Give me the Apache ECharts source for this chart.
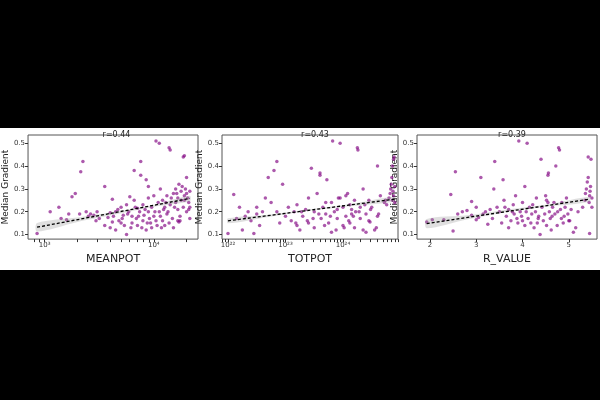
<!DOCTYPE html>
<html><head><meta charset="utf-8">
<script src="https://cdn.jsdelivr.net/npm/echarts@6/dist/echarts.min.js"></script>
<style>html,body{margin:0;padding:0;background:#000;width:600px;height:400px;overflow:hidden}
#c{position:absolute;left:0;top:128px;width:600px;height:142px;background:#fff}</style>
</head><body><div id="c"></div>
<script>
// x values: panel1 log10(MEANPOT), panel2 log10(TOTPOT), panel3 R_VALUE
const titles = ['r=0.44','r=0.43','r=0.39'];
const xNames = ['MEANPOT','TOTPOT','R_VALUE'];
const meanpotPts = [[2.93,0.105],[3.05,0.2],[3.13,0.22],[3.15,0.17],[3.2,0.165],[3.22,0.19],[3.25,0.265],[3.28,0.28],[3.32,0.19],[3.35,0.42],[3.33,0.375],[3.38,0.2],[3.4,0.18],[3.42,0.19],[3.45,0.185],[3.47,0.16],[3.48,0.2],[3.5,0.17],[3.55,0.14],[3.55,0.31],[3.58,0.175],[3.6,0.195],[3.62,0.155],[3.62,0.255],[3.65,0.12],[3.65,0.2],[3.68,0.16],[3.7,0.22],[3.72,0.185],[3.73,0.14],[3.75,0.1],[3.75,0.23],[3.77,0.2],[3.78,0.265],[3.8,0.15],[3.8,0.18],[3.82,0.38],[3.82,0.25],[3.84,0.17],[3.85,0.215],[3.85,0.14],[3.87,0.2],[3.88,0.42],[3.88,0.36],[3.9,0.16],[3.9,0.23],[3.91,0.185],[3.93,0.12],[3.93,0.34],[3.95,0.2],[3.95,0.26],[3.97,0.15],[3.98,0.22],[4.0,0.18],[4.0,0.27],[4.02,0.51],[4.03,0.14],[4.04,0.24],[4.05,0.2],[4.05,0.5],[4.06,0.3],[4.08,0.16],[4.08,0.25],[4.1,0.22],[4.1,0.14],[4.12,0.19],[4.12,0.27],[4.14,0.48],[4.15,0.47],[4.15,0.23],[4.17,0.17],[4.18,0.28],[4.2,0.3],[4.2,0.24],[4.22,0.21],[4.22,0.26],[4.23,0.32],[4.24,0.18],[4.25,0.25],[4.25,0.29],[4.27,0.44],[4.28,0.445],[4.28,0.25],[4.28,0.27],[4.29,0.3],[4.3,0.35],[4.3,0.2],[4.31,0.26],[4.32,0.24],[4.32,0.21],[4.22,0.16],[4.24,0.16],[4.23,0.155],[4.33,0.29],[4.33,0.22],[4.33,0.17],[4.02,0.16],[3.98,0.13],[3.6,0.13],[3.95,0.31],[3.7,0.15],[3.76,0.19],[3.83,0.22],[3.86,0.18],[3.92,0.21],[3.96,0.17],[4.01,0.2],[4.06,0.18],[4.09,0.21],[4.11,0.24],[4.13,0.2],[4.16,0.26],[4.19,0.22],[4.21,0.28],[4.26,0.31],[4.27,0.22],[4.3,0.28],[3.63,0.18],[3.67,0.21],[3.71,0.17],[3.79,0.13],[3.89,0.13],[3.94,0.15],[4.07,0.13],[4.14,0.15],[4.18,0.13]];
const totpotPts = [[22.0,0.105],[22.1,0.275],[22.15,0.17],[22.2,0.22],[22.25,0.12],[22.3,0.18],[22.35,0.2],[22.4,0.16],[22.45,0.105],[22.5,0.22],[22.5,0.19],[22.55,0.14],[22.6,0.2],[22.65,0.26],[22.7,0.35],[22.75,0.24],[22.8,0.38],[22.85,0.42],[22.85,0.2],[22.9,0.15],[22.95,0.32],[23.0,0.18],[23.05,0.22],[23.1,0.16],[23.15,0.2],[23.2,0.14],[23.2,0.23],[23.25,0.12],[23.3,0.18],[23.35,0.21],[23.4,0.15],[23.4,0.26],[23.45,0.39],[23.5,0.2],[23.5,0.13],[23.55,0.28],[23.6,0.36],[23.6,0.37],[23.62,0.17],[23.65,0.22],[23.7,0.19],[23.72,0.34],[23.75,0.15],[23.8,0.24],[23.8,0.11],[23.82,0.51],[23.85,0.2],[23.9,0.17],[23.95,0.26],[23.95,0.5],[24.0,0.14],[24.0,0.22],[24.05,0.18],[24.05,0.27],[24.08,0.28],[24.1,0.16],[24.12,0.23],[24.15,0.19],[24.2,0.13],[24.2,0.25],[24.22,0.2],[24.25,0.48],[24.26,0.47],[24.3,0.17],[24.3,0.22],[24.35,0.12],[24.35,0.3],[24.4,0.19],[24.4,0.11],[24.45,0.25],[24.45,0.16],[24.47,0.155],[24.5,0.22],[24.55,0.12],[24.6,0.4],[24.6,0.18],[24.65,0.27],[24.72,0.24],[24.74,0.25],[24.76,0.23],[24.8,0.26],[24.82,0.28],[24.83,0.3],[24.84,0.32],[24.85,0.35],[24.86,0.25],[24.87,0.29],[24.88,0.27],[24.88,0.43],[24.89,0.44],[24.9,0.31],[24.9,0.24],[24.86,0.4],[24.12,0.15],[24.02,0.13],[23.9,0.21],[23.78,0.18],[23.68,0.14],[23.58,0.19],[23.48,0.17],[23.38,0.16],[23.28,0.2],[23.18,0.15],[23.88,0.12],[24.18,0.18],[24.28,0.2],[24.38,0.23],[24.48,0.21],[24.58,0.13],[24.62,0.19],[23.7,0.24],[23.92,0.26],[24.15,0.21]];
const rvaluePts = [[1.93,0.155],[2.05,0.165],[2.3,0.165],[2.45,0.275],[2.5,0.115],[2.55,0.375],[2.6,0.19],[2.7,0.2],[2.8,0.205],[2.9,0.185],[2.9,0.245],[3.0,0.165],[3.0,0.22],[3.05,0.175],[3.1,0.35],[3.15,0.19],[3.2,0.2],[3.25,0.145],[3.3,0.21],[3.35,0.17],[3.38,0.3],[3.4,0.42],[3.45,0.22],[3.5,0.2],[3.55,0.15],[3.58,0.34],[3.6,0.25],[3.65,0.18],[3.7,0.13],[3.7,0.21],[3.75,0.16],[3.8,0.23],[3.82,0.19],[3.85,0.27],[3.9,0.15],[3.92,0.51],[3.95,0.2],[3.98,0.18],[4.0,0.24],[4.05,0.14],[4.05,0.31],[4.1,0.5],[4.12,0.17],[4.15,0.22],[4.2,0.19],[4.25,0.13],[4.28,0.2],[4.3,0.26],[4.32,0.15],[4.35,0.18],[4.38,0.1],[4.4,0.43],[4.42,0.22],[4.45,0.16],[4.5,0.27],[4.52,0.25],[4.55,0.36],[4.56,0.37],[4.55,0.24],[4.58,0.2],[4.6,0.17],[4.62,0.12],[4.65,0.22],[4.7,0.19],[4.72,0.4],[4.75,0.14],[4.78,0.48],[4.8,0.47],[4.82,0.21],[4.85,0.24],[4.88,0.15],[4.9,0.18],[4.95,0.26],[5.0,0.16],[5.05,0.21],[5.1,0.11],[5.15,0.13],[5.2,0.2],[5.3,0.22],[5.35,0.25],[5.36,0.28],[5.38,0.3],[5.4,0.33],[5.42,0.35],[5.42,0.44],[5.44,0.24],[5.45,0.27],[5.46,0.29],[5.47,0.31],[5.48,0.43],[5.5,0.26],[5.45,0.105],[5.5,0.22],[4.0,0.16],[4.08,0.2],[4.18,0.15],[4.22,0.23],[4.34,0.17],[4.48,0.19],[4.52,0.14],[4.64,0.18],[4.68,0.24],[4.76,0.2],[4.84,0.17],[4.92,0.22],[4.98,0.19],[5.02,0.16],[3.88,0.17],[3.78,0.2],[3.62,0.22]];
const fitLines = [[[2.93,0.132],[4.33,0.258]],[[22.0,0.16],[24.9,0.255]],[[1.93,0.148],[5.45,0.255]]];
const fitBands = [
  [[2.93,0.113,0.151],[3.3,0.155,0.175],[3.7,0.193,0.203],[4.0,0.222,0.230],[4.33,0.246,0.270]],
  [[22.0,0.149,0.171],[22.7,0.177,0.187],[23.4,0.204,0.210],[24.2,0.226,0.236],[24.9,0.245,0.265]],
  [[1.93,0.128,0.168],[2.8,0.166,0.184],[3.8,0.203,0.213],[4.6,0.224,0.234],[5.45,0.244,0.266]]];
const xRanges = [[2.847,4.405],[21.896,24.957],[1.72,5.61]];
const xMajor = [[3,4],[22,23,24],[2,3,4,5]];
const yTicks = [0.1,0.2,0.3,0.4,0.5];
const sup = {'0':'⁰','1':'¹','2':'²','3':'³','4':'⁴','5':'⁵','6':'⁶','7':'⁷','8':'⁸','9':'⁹'};
function minorLog(lo,hi){const r=[];for(let d=Math.floor(lo);d<=hi;d++){for(let k=1;k<10;k++){const v=d+Math.log10(k);if(v>=lo&&v<=hi)r.push(v);}}return r;}
const grids=[{left:25,width:173},{left:222,width:176},{left:417,width:180}].map(g=>({left:g.left,width:g.width,top:7,height:115,show:true,borderColor:'#555',borderWidth:1,backgroundColor:'#fff'}));
const xAxis=[],yAxis=[],series=[],title=[];
for(let i=0;i<3;i++){
  const isLog=i<2;
  xAxis.push({type:'value',gridIndex:i,min:xRanges[i][0],max:xRanges[i][1],name:xNames[i],nameLocation:'middle',nameGap:12,
    nameTextStyle:{fontSize:11,color:'#222',fontFamily:'DejaVu Sans'},splitLine:{show:false},axisLine:{show:false},
    axisTick:{show:true,length:3,lineStyle:{color:'#333'},customValues:isLog?minorLog(xRanges[i][0],xRanges[i][1]):xMajor[i]},
    axisLabel:{fontSize:7,color:'#333',margin:3,fontFamily:'DejaVu Sans',customValues:xMajor[i],
      formatter:v=>isLog?'10'+String(Math.round(v)).split('').map(c=>sup[c]).join(''):String(v)}});
  yAxis.push({type:'value',gridIndex:i,min:0.08,max:0.536,name:'Median Gradient',nameLocation:'middle',nameGap:15,
    nameTextStyle:{fontSize:9,color:'#222',fontFamily:'DejaVu Sans'},splitLine:{show:false},axisLine:{show:false},
    axisTick:{show:true,length:3,lineStyle:{color:'#333'},customValues:yTicks},
    axisLabel:{fontSize:7,color:'#333',margin:3,fontFamily:'DejaVu Sans',customValues:yTicks,formatter:v=>v.toFixed(1)}});
  title.push({text:titles[i],left:[25,222,417][i]+[173,176,180][i]/2,top:-2,textAlign:'center',textStyle:{fontSize:8,fontWeight:'normal',color:'#222',fontFamily:'DejaVu Sans'}});
  const pts=[meanpotPts,totpotPts,rvaluePts][i];
  series.push({type:'scatter',xAxisIndex:i,yAxisIndex:i,data:pts,symbolSize:3.5,itemStyle:{color:'#800080',opacity:0.65},silent:true,z:2});
  const band=fitBands[i];
  series.push({type:'custom',xAxisIndex:i,yAxisIndex:i,data:band,z:3,silent:true,
    renderItem:(p,api)=>{if(p.dataIndex!==0)return null;
      const up=band.map(b=>api.coord([b[0],b[2]])),lo=band.map(b=>api.coord([b[0],b[1]])).reverse();
      return {type:'polygon',shape:{points:up.concat(lo),smooth:0.3},style:{fill:'rgba(150,150,150,0.3)'}};}});
  series.push({type:'line',xAxisIndex:i,yAxisIndex:i,data:fitLines[i],symbol:'none',z:4,silent:true,
    lineStyle:{color:'#000',width:1.3,type:[3,2]}});
}
const ch=echarts.init(document.getElementById('c'),null,{renderer:'canvas'});
ch.setOption({animation:false,backgroundColor:'#fff',title,grid:grids,xAxis,yAxis,series});
</script></body></html>
